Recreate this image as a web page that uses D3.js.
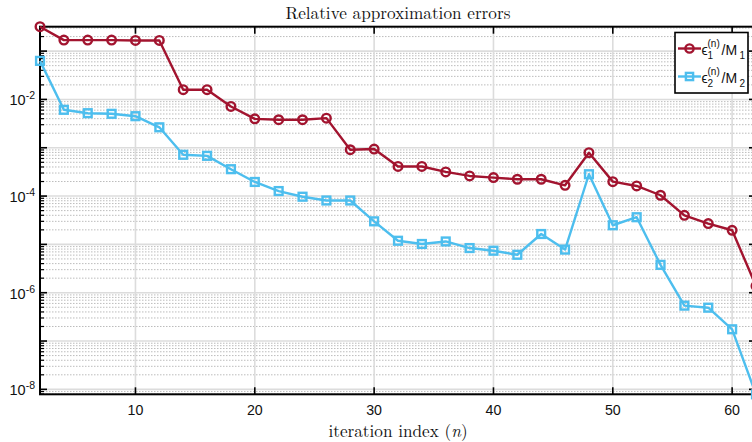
<!DOCTYPE html>
<html>
<head>
<meta charset="utf-8">
<script src="https://cdn.jsdelivr.net/npm/d3@7"></script>
<style>
  body { margin: 0; background: #fff; }
  svg { display: block; }
</style>
</head>
<body>
<svg id="chart" width="752" height="442"></svg>
<script>
// Iteration index n (even steps)
const iterations = [2, 4, 6, 8, 10, 12, 14, 16, 18, 20, 22, 24, 26, 28, 30, 32,
                    34, 36, 38, 40, 42, 44, 46, 48, 50, 52, 54, 56, 58, 60, 62];

// Relative error eps_1^(n) / M_1
const err1 = [0.32, 0.169, 0.169, 0.169, 0.166, 0.166, 0.0159, 0.0159, 0.00715, 0.00396,
              0.0038, 0.0038, 0.0041, 0.00091, 0.00094, 0.00041, 0.00041, 0.000316, 0.000261,
              0.000241, 0.000223, 0.000223, 0.000167, 0.00079, 0.000199, 0.000162, 0.000104,
              4.0e-5, 2.7e-5, 1.96e-5, 1.38e-6];

// Relative error eps_2^(n) / M_2
const err2 = [0.0628, 0.0061, 0.00519, 0.00504, 0.0045, 0.00265, 0.000715, 0.00068, 0.00036,
              0.000196, 0.000127, 9.7e-5, 8.1e-5, 8.1e-5, 3.0e-5, 1.19e-5, 1.02e-5, 1.15e-5,
              8.4e-6, 7.4e-6, 6.1e-6, 1.64e-5, 7.8e-6, 0.000283, 2.49e-5, 3.65e-5, 3.77e-6,
              5.4e-7, 4.9e-7, 1.75e-7, 7.9e-9];

const xTicks = [10, 20, 30, 40, 50, 60];
const yLabelExponents = [-8, -6, -4, -2];

const titleText = "Relative approximation errors";
const xLabelText = "iteration index ";

const red = "#A2142F";
const blue = "#4DBEEE";

const svg = d3.select("#chart");
const plotL = 40, plotR = 756, plotT = 26.7, plotB = 394.3;

const x = d3.scaleLinear().domain([2, 62]).range([plotL, plotR]);
const allVals = err1.concat(err2);
const y = d3.scaleLog().domain(d3.extent(allVals)).range([plotB, plotT]);

const [yMin, yMax] = y.domain();
const decLo = Math.floor(Math.log10(yMin)), decHi = Math.ceil(Math.log10(yMax));
const majorY = [], minorY = [];
for (let e = decLo; e <= decHi; e++) {
  const base = Math.pow(10, e);
  if (base >= yMin && base <= yMax) majorY.push(base);
  for (let m = 2; m <= 9; m++) {
    const v = m * base;
    if (v >= yMin && v <= yMax) minorY.push(v);
  }
}

const grid = svg.append("g");
// minor horizontal grid (dotted)
grid.selectAll("line.minor").data(minorY).join("line")
  .attr("x1", plotL).attr("x2", plotR)
  .attr("y1", d => y(d)).attr("y2", d => y(d))
  .attr("stroke", "#bcbcbc").attr("stroke-width", 1)
  .attr("stroke-dasharray", "1.5,1.5");
// major horizontal grid
grid.selectAll("line.majy").data(majorY).join("line")
  .attr("x1", plotL).attr("x2", plotR)
  .attr("y1", d => y(d)).attr("y2", d => y(d))
  .attr("stroke", "#dcdcdc").attr("stroke-width", 1.6);
// major vertical grid
grid.selectAll("line.majx").data(xTicks).join("line")
  .attr("x1", d => x(d)).attr("x2", d => x(d))
  .attr("y1", plotT).attr("y2", plotB)
  .attr("stroke", "#dcdcdc").attr("stroke-width", 1.6);

// ticks (inward) on all four sides
const ticks = svg.append("g").attr("stroke", "#000");
xTicks.forEach(t => {
  ticks.append("line").attr("x1", x(t)).attr("x2", x(t)).attr("y1", plotB).attr("y2", plotB - 7).attr("stroke-width", 1.6);
  ticks.append("line").attr("x1", x(t)).attr("x2", x(t)).attr("y1", plotT).attr("y2", plotT + 7).attr("stroke-width", 1.6);
});
majorY.forEach(v => {
  ticks.append("line").attr("x1", plotL).attr("x2", plotL + 7).attr("y1", y(v)).attr("y2", y(v)).attr("stroke-width", 1.6);
  ticks.append("line").attr("x1", plotR).attr("x2", plotR - 7).attr("y1", y(v)).attr("y2", y(v)).attr("stroke-width", 1.6);
});
minorY.forEach(v => {
  ticks.append("line").attr("x1", plotL).attr("x2", plotL + 4).attr("y1", y(v)).attr("y2", y(v)).attr("stroke-width", 1.2);
  ticks.append("line").attr("x1", plotR).attr("x2", plotR - 4).attr("y1", y(v)).attr("y2", y(v)).attr("stroke-width", 1.2);
});

// axes box
svg.append("rect")
  .attr("x", plotL).attr("y", plotT)
  .attr("width", plotR - plotL).attr("height", plotB - plotT)
  .attr("fill", "none").attr("stroke", "#000").attr("stroke-width", 2);

// tick labels
const sans = "'Liberation Sans', Arial, Helvetica, sans-serif";
svg.append("g").selectAll("text").data(xTicks).join("text")
  .attr("x", d => x(d)).attr("y", plotB + 20.5)
  .attr("text-anchor", "middle")
  .attr("font-family", sans).attr("font-size", 14.2).attr("fill", "#111")
  .text(d => d);

const yl = svg.append("g").selectAll("text").data(yLabelExponents).join("text")
  .attr("x", 35).attr("y", d => y(Math.pow(10, d)) + 6)
  .attr("text-anchor", "end")
  .attr("font-family", sans).attr("font-size", 14.5).attr("fill", "#111");
yl.append("tspan").text("10");
yl.append("tspan").attr("dy", -6).attr("font-size", 10.5).text(d => String(d));

// series
const series = [
  { vals: err1, color: red, marker: "circle" },
  { vals: err2, color: blue, marker: "square" }
];
const line = d3.line().x(d => x(d[0])).y(d => y(d[1]));

function drawMarker(g, kind, cx, cy, color, s) {
  if (kind === "circle") {
    g.append("circle").attr("cx", cx).attr("cy", cy).attr("r", s)
      .attr("fill", "none").attr("stroke", color).attr("stroke-width", 2.4);
  } else {
    g.append("rect").attr("x", cx - s).attr("y", cy - s).attr("width", 2 * s).attr("height", 2 * s)
      .attr("fill", "none").attr("stroke", color).attr("stroke-width", 2.4);
  }
}

series.forEach(s => {
  const pts = iterations.map((n, i) => [n, s.vals[i]]);
  const g = svg.append("g");
  g.append("path").attr("d", line(pts))
    .attr("fill", "none").attr("stroke", s.color).attr("stroke-width", 2.4)
    .attr("stroke-linejoin", "round");
  pts.forEach(p => drawMarker(g, s.marker, x(p[0]), y(p[1]), s.color, s.marker === "circle" ? 4.3 : 3.9));
});

// legend
const lg = svg.append("g");
lg.append("rect").attr("x", 675).attr("y", 32.5).attr("width", 73).attr("height", 60.5)
  .attr("fill", "#fff").attr("stroke", "#000").attr("stroke-width", 1.6);
const legendItems = [
  { color: red, marker: "circle", idx: "1", yy: 48.5 },
  { color: blue, marker: "square", idx: "2", yy: 76.5 }
];
legendItems.forEach(it => {
  lg.append("line").attr("x1", 678).attr("x2", 701).attr("y1", it.yy).attr("y2", it.yy)
    .attr("stroke", it.color).attr("stroke-width", 2.4);
  drawMarker(lg, it.marker, 689.5, it.yy, it.color, it.marker === "circle" ? 4.1 : 3.6);
  const base = it.yy + 6.5;
  const txt = (xx, yy, size, s) => lg.append("text").attr("x", xx).attr("y", yy)
    .attr("font-family", sans).attr("font-size", size).attr("fill", "#111").text(s);
  txt(701.5, base, 14, "\u03F5");
  txt(707.5, base - 8, 10, "(n)");
  txt(707.5, base + 4, 10, it.idx);
  txt(721.5, base, 14, "/M");
  txt(739.5, base + 4, 10, it.idx);
});

// title and axis label
const serif = "'Latin Modern Roman', 'CMU Serif', 'Liberation Serif', 'DejaVu Serif', serif";
svg.append("text").attr("x", (plotL + plotR) / 2).attr("y", 19)
  .attr("text-anchor", "middle")
  .attr("font-family", serif).attr("font-size", 17.2).attr("fill", "#111")
  .text(titleText);
const xl = svg.append("text").attr("x", (plotL + plotR) / 2).attr("y", 437.2)
  .attr("text-anchor", "middle")
  .attr("font-family", serif).attr("font-size", 17.2).attr("fill", "#111");
xl.append("tspan").text(xLabelText + "(");
xl.append("tspan").attr("font-style", "italic").text("n");
xl.append("tspan").text(")");
</script>
</body>
</html>
